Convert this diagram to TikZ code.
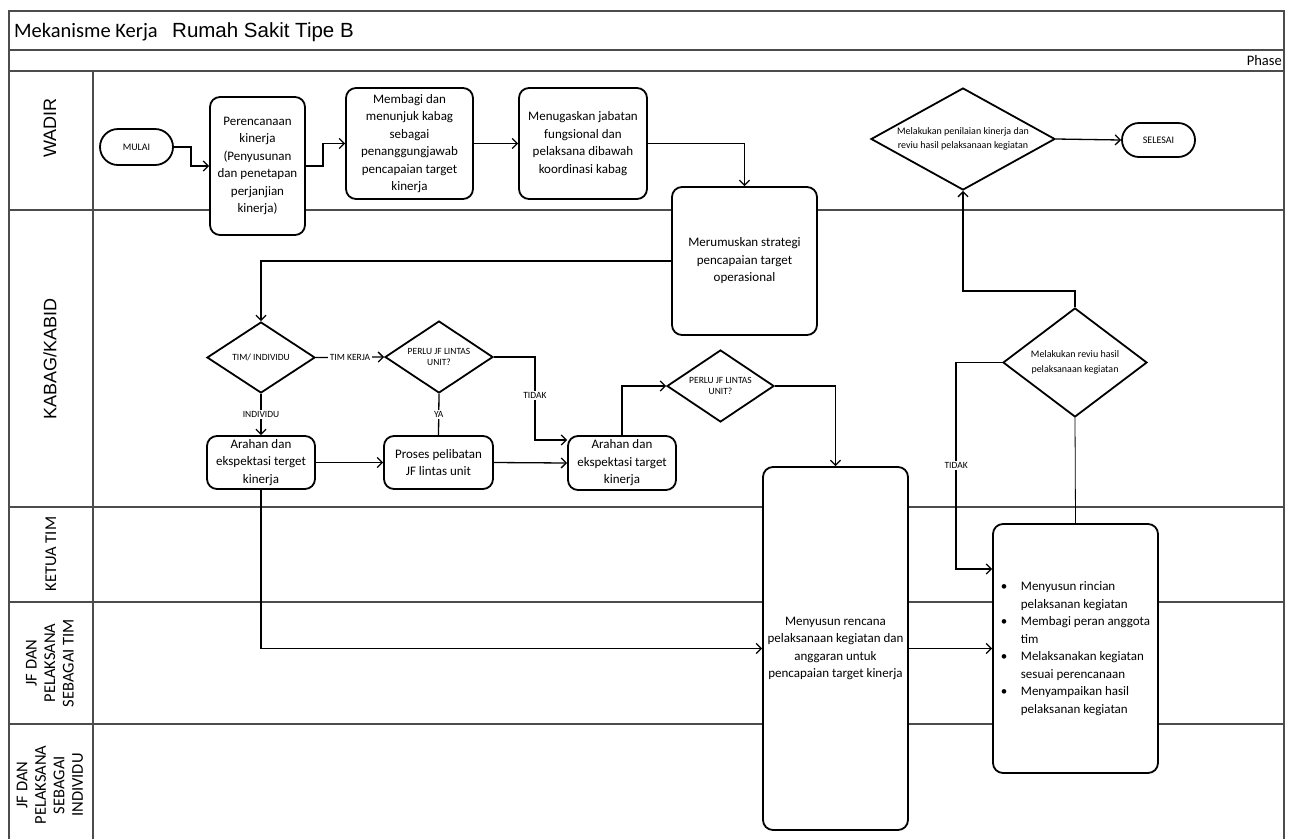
\documentclass[tikz,border=0pt]{standalone}
\usepackage{fontspec}
\setmainfont{Carlito}
\newfontfamily\arialfont{Liberation Sans}
\usetikzlibrary{shapes.geometric,arrows.meta,calc}

% font sizes (1pt = one unit of the drawing)
\newcommand\bxfont{\fontsize{13}{17.5}\selectfont}
\newcommand\smfont{\fontsize{10}{14.5}\selectfont}
\newcommand\lblfont{\fontsize{9.5}{11}\selectfont}
\newcommand\lanefont{\fontsize{16.5}{18.5}\selectfont}
\newcommand\bigarial{\arialfont\fontsize{18}{20}\selectfont}

\begin{document}
\begin{tikzpicture}[x=1pt,y=-1pt,
  lane/.style={draw=black!70,line width=1.1pt},
  box/.style={draw,line width=1.8pt,rounded corners=10pt,fill=white,
    align=center,inner sep=0pt,font=\bxfont},
  dia/.style={diamond,draw,line width=1.8pt,fill=white,inner sep=0pt},
  term/.style={draw,line width=1.8pt,fill=white,inner sep=0pt,font=\smfont},
  conn/.style={draw,line width=1.3pt},
  arr/.style={conn,-{Straight Barb[length=5pt,width=10pt]}},
  lbl/.style={font=\lblfont,fill=white,inner sep=1.5pt},
  lanelbl/.style={rotate=90,align=center,font=\lanefont},
]
\useasboundingbox (0,0) rectangle (1291,839);
\fill[white] (0,0) rectangle (1291,839);

% swimlane frame
\draw[lane] (9,839) -- (9,11) -- (1284,11) -- (1284,839);
\foreach \yy in {50,71,210,507,602,724}
  \draw[lane] (9,\yy) -- (1284,\yy);
\draw[lane] (93,71) -- (93,839);

% heading
\node[anchor=base west,inner sep=0pt,font=\fontsize{20.5}{22}\selectfont] (ttl) at (14,37) {Mekanisme Kerja};
\node[anchor=base west,inner sep=0pt,font=\arialfont\fontsize{20.5}{22}\selectfont] (sub) at (172,37) {Rumah Sakit Tipe B};
\node[anchor=base east,inner sep=0pt,font=\fontsize{14.5}{16}\selectfont] (phase) at (1282,65) {Phase};

% lane names
\node[lanelbl,font=\bigarial] (l1) at (50,128) {WADIR};
\node[lanelbl,font=\bigarial] (l2) at (50,359) {KABAG/KABID};
\node[lanelbl] (l3) at (51,554) {KETUA TIM};
\node[lanelbl] (l4) at (50,663) {JF DAN\\PELAKSANA\\SEBAGAI TIM};
\node[lanelbl] (l5) at (50,785) {JF DAN\\PELAKSANA\\SEBAGAI\\INDIVIDU};

% WADIR
\node[term,rounded corners=18pt,minimum width=73pt,minimum height=36pt] (mulai) at (136.5,147) {MULAI};
\node[box,minimum width=95pt,minimum height=138pt] (perenc) at (257.5,166)
  {Perencanaan\\kinerja\\(Penyusunan\\dan penetapan\\perjanjian\\kinerja)};
\node[box,minimum width=127pt,minimum height=111pt] (membagi) at (409.5,143.5)
  {Membagi dan\\menunjuk kabag\\sebagai\\penanggungjawab\\pencapaian target\\kinerja};
\node[box,minimum width=128pt,minimum height=111pt] (menugas) at (583,143.5)
  {Menugaskan jabatan\\fungsional dan\\pelaksana dibawah\\koordinasi kabag};
\node[dia,minimum width=184pt,minimum height=102pt,
  label={[font=\smfont,align=center]center:{Melakukan penilaian kinerja dan\\reviu hasil pelaksanaan kegiatan}}]
  (penilaian) at (963,139) {};
\node[term,rounded corners=17pt,minimum width=73pt,minimum height=34pt] (selesai) at (1158.5,140) {SELESAI};

% KABAG/KABID
\node[box,minimum width=145pt,minimum height=148pt] (merumus) at (744.5,261)
  {Merumuskan strategi\\pencapaian target\\operasional};
\node[dia,minimum width=108pt,minimum height=71pt,
  label={[font=\lblfont]center:TIM/ INDIVIDU}] (timind) at (261,357.5) {};
\node[dia,minimum width=108pt,minimum height=72pt,
  label={[font=\lblfont,align=center]center:{PERLU JF LINTAS\\UNIT?}}] (perlu1) at (439,357) {};
\node[box,minimum width=108pt,minimum height=53pt] (arahan1) at (261,462.5)
  {Arahan dan\\ekspektasi terget\\kinerja};
\node[box,minimum width=109pt,minimum height=53pt] (proses) at (438.5,462.5)
  {Proses pelibatan\\JF lintas unit};
\node[box,minimum width=108pt,minimum height=54pt] (arahan2) at (622,463)
  {Arahan dan\\ekspektasi target\\kinerja};
\node[dia,minimum width=107pt,minimum height=72pt,
  label={[font=\lblfont,align=center]center:{PERLU JF LINTAS\\UNIT?}}] (perlu2) at (720.5,386) {};
\node[dia,minimum width=144pt,minimum height=109pt,
  label={[font=\smfont,align=center]center:{Melakukan reviu hasil\\pelaksanaan kegiatan}}] (review) at (1075,362.5) {};

% tall boxes across the lower lanes
\node[box,minimum width=145pt,minimum height=363pt] (menyusun) at (835.5,648.5)
  {Menyusun rencana\\pelaksanaan kegiatan dan\\anggaran untuk\\pencapaian target kinerja};
\node[box,minimum width=165pt,minimum height=249pt,align=left] (bullets) at (1075.5,648.5)
  {\begin{tabular}{@{}l@{}l@{}}
   \makebox[20pt][l]{•} & Menyusun rincian\\
    & pelaksanan kegiatan\\
   \makebox[20pt][l]{•} & Membagi peran anggota\\
    & tim\\
   \makebox[20pt][l]{•} & Melaksanakan kegiatan\\
    & sesuai perencanaan\\
   \makebox[20pt][l]{•} & Menyampaikan hasil\\
    & pelaksanan kegiatan
   \end{tabular}};

% connectors
\draw[arr] (mulai.east) -- ++(17,0) |- (perenc.west);
\draw[arr] (perenc.east) -- ++(17,0) |- (membagi.west);
\draw[arr] (membagi.east) -- (menugas.west);
\draw[arr] (menugas.east) -| (merumus.north);
\draw[arr] (merumus.west) -| (timind.north);
\draw[arr] (timind.east) -- node[lbl] {TIM KERJA} (perlu1.west);
\draw[arr] (timind.south) -- node[lbl] {INDIVIDU} (arahan1.north);
\draw[conn] (perlu1.south) -- node[lbl] {YA} (proses.north);
\draw[arr] (perlu1.east) -- ++(41,0) |- node[lbl,pos=0.23] {TIDAK} ([yshift=23pt]arahan2.west);
\draw[arr] (arahan1.east) -- (proses.west);
\draw[arr] (proses.east) -- (arahan2.west);
\draw[arr] (arahan2.north) |- (perlu2.west);
\draw[arr] (perlu2.east) -| (menyusun.north);
\draw[arr] (arahan1.south) |- (menyusun.west);
\draw[arr] (menyusun.east) -- (bullets.west);
\draw[draw,line width=0.8pt] (bullets.north) -- (review.south);
\draw[arr] (review.west) -- ++(-46,0) |- node[lbl,pos=0.25] {TIDAK} ([yshift=79.5pt]bullets.west);
\draw[arr] (review.north) -- ++(0,-16) -| (penilaian.south);
\draw[arr] (penilaian.east) -- (selesai.west);
\end{tikzpicture}
\end{document}
